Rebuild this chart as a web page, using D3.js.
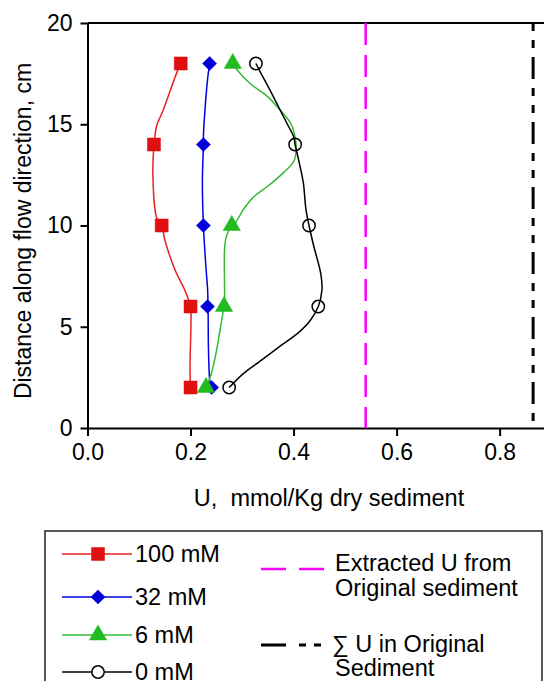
<!DOCTYPE html>
<html>
<head>
<meta charset="utf-8">
<script src="https://cdn.jsdelivr.net/npm/d3@7"></script>
<style>
  body { margin: 0; background: #fff; }
  svg { display: block; font-family: "Liberation Sans", Arial, sans-serif; }
</style>
</head>
<body>
<div id="app"></div>
<script>
// Marker values (depth in cm, U in mmol/Kg)
const depths = [18, 14, 10, 6, 2];
const u100 = [0.181, 0.129, 0.144, 0.200, 0.200];
const u32 = [0.237, 0.225, 0.225, 0.233, 0.241];
const depths6 = [18, 10, 6, 2];
const u6 = [0.282, 0.280, 0.265, 0.230];
const u0 = [0.327, 0.403, 0.430, 0.448, 0.275];

// Trend curves as drawn in the figure, [U, depth]
const trace100 = [[0.181,18],[0.174,17.6],[0.147,15.7],[0.134,14.9],[0.130,14.2],[0.129,14],[0.127,12.4],[0.134,10.4],[0.144,10],[0.150,9.3],[0.170,7.8],[0.189,6.8],[0.200,6],[0.201,5.5],[0.199,3.0],[0.200,2]];
const trace32 = [[0.237,18],[0.233,17.2],[0.228,15.7],[0.225,14.4],[0.225,14],[0.223,12.2],[0.225,10],[0.230,7.9],[0.233,6.9],[0.234,6],[0.235,3.7],[0.238,2.2],[0.241,2]];
const trace6 = [[0.282,18],[0.293,17.6],[0.316,17.0],[0.348,16.4],[0.374,15.7],[0.393,15.1],[0.401,14.6],[0.405,13.9],[0.401,13.2],[0.380,12.6],[0.348,11.9],[0.322,11.4],[0.303,10.8],[0.286,10.1],[0.280,10],[0.269,9.4],[0.266,8.8],[0.266,6.2],[0.265,6],[0.257,4.8],[0.248,3.5],[0.238,2.5],[0.230,2]];
const trace0 = [[0.327,18],[0.335,17.6],[0.354,16.7],[0.374,15.7],[0.390,14.9],[0.400,14.4],[0.403,14],[0.411,13.1],[0.419,12.1],[0.424,10.8],[0.430,10],[0.439,9.0],[0.453,7.6],[0.455,6.8],[0.448,6],[0.432,5.3],[0.409,4.7],[0.377,4.1],[0.335,3.3],[0.303,2.7],[0.275,2]];

// Reference levels
const extractedU = 0.54;
const totalU = 0.865;

const xTicks = [0, 0.2, 0.4, 0.6, 0.8];
const yTicks = [0, 5, 10, 15, 20];

const width = 544;
const height = 681;

const x = d3.scaleLinear().domain([0, 0.89]).range([87.5, 546]);
const y = d3.scaleLinear().domain([0, 20]).range([428, 23]);

const svg = d3.select("#app").append("svg")
  .attr("width", width)
  .attr("height", height);

// Axes
const xAxis = svg.append("g")
  .attr("transform", `translate(0, ${y(0)})`)
  .call(d3.axisBottom(x).tickValues(xTicks).tickFormat(d3.format(".1f")).tickSize(8).tickSizeOuter(0).tickPadding(8));
const yAxis = svg.append("g")
  .attr("transform", `translate(${x(0)}, 0)`)
  .call(d3.axisLeft(y).tickValues(yTicks).tickSize(7).tickSizeOuter(0).tickPadding(8));

[xAxis, yAxis].forEach(g => {
  g.select(".domain").attr("stroke-width", 2);
  g.selectAll(".tick line").attr("stroke-width", 2);
  g.selectAll(".tick text").attr("font-size", 23).attr("font-family", "Liberation Sans, Arial, sans-serif").attr("fill", "#000");
});

// top border
svg.append("line")
  .attr("x1", x(0)).attr("x2", width + 2)
  .attr("y1", y(20)).attr("y2", y(20))
  .attr("stroke", "#000").attr("stroke-width", 2);

// Axis labels
svg.append("text")
  .text("U,  mmol/Kg dry sediment")
  .attr("x", 329).attr("y", 506)
  .attr("text-anchor", "middle")
  .attr("font-size", 23.5)
  .style("white-space", "pre");

svg.append("text")
  .text("Distance along flow direction, cm")
  .attr("transform", "translate(31, 231) rotate(-90)")
  .attr("text-anchor", "middle")
  .attr("font-size", 23);

// Reference lines
svg.append("line")
  .attr("x1", x(extractedU)).attr("x2", x(extractedU))
  .attr("y1", y(20)).attr("y2", y(0))
  .attr("stroke", "#ff00ff").attr("stroke-width", 2.5)
  .attr("stroke-dasharray", "22 10");

svg.append("line")
  .attr("x1", x(totalU)).attr("x2", x(totalU))
  .attr("y1", y(20)).attr("y2", y(0))
  .attr("stroke", "#000").attr("stroke-width", 3)
  .attr("stroke-dasharray", "8 9 8 9 22 9");

// Series
const line = d3.line().x(d => x(d[0])).y(d => y(d[1])).curve(d3.curveCatmullRom);

// square turned 45 degrees, as in the original
const squareDiamond = {
  draw(context, size) {
    const r = Math.sqrt(size) / Math.SQRT2;
    context.moveTo(0, -r);
    context.lineTo(r, 0);
    context.lineTo(0, r);
    context.lineTo(-r, 0);
    context.closePath();
  }
};

const series = [
  { name: "100 mM", trace: trace100, u: u100, d: depths, color: "#e01010", line: "#e82020", symbol: d3.symbolSquare, size: 170, fill: true },
  { name: "32 mM", trace: trace32, u: u32, d: depths, color: "#0000dd", line: "#0000e0", symbol: squareDiamond, size: 100, fill: true },
  { name: "6 mM", trace: trace6, u: u6, d: depths6, color: "#22bb22", line: "#33bb33", symbol: d3.symbolTriangle, size: 130, fill: true },
  { name: "0 mM", trace: trace0, u: u0, d: depths, color: "#000", line: "#000", symbol: d3.symbolCircle, size: 120, fill: false }
];

series.forEach(s => {
  svg.append("path")
    .datum(s.trace)
    .attr("d", line)
    .attr("fill", "none")
    .attr("stroke", s.line)
    .attr("stroke-width", 1.5);
});

series.forEach(s => {
  svg.selectAll(null)
    .data(s.u.map((u, i) => [u, s.d[i]]))
    .enter()
    .append("path")
    .attr("d", d3.symbol().type(s.symbol).size(s.size))
    .attr("transform", d => `translate(${x(d[0])}, ${y(d[1])})`)
    .attr("fill", s.fill ? s.color : "none")
    .attr("stroke", s.color)
    .attr("stroke-width", s.fill ? 0.5 : 1.5);
});

// Legend
const legend = svg.append("g");
legend.append("rect")
  .attr("x", 45).attr("y", 531)
  .attr("width", 497).attr("height", 170)
  .attr("fill", "none").attr("stroke", "#222").attr("stroke-width", 1.5);

const rowY = [554, 597, 635, 672];
series.forEach((s, i) => {
  const g = legend.append("g").attr("transform", `translate(0, ${rowY[i]})`);
  g.append("line")
    .attr("x1", 62).attr("x2", 132)
    .attr("stroke", s.line).attr("stroke-width", 1.5);
  g.append("path")
    .attr("d", d3.symbol().type(s.symbol).size(s.size))
    .attr("transform", "translate(98, 0)")
    .attr("fill", s.fill ? s.color : "#fff")
    .attr("stroke", s.color)
    .attr("stroke-width", s.fill ? 0.5 : 1.5);
  g.append("text")
    .text(s.name)
    .attr("x", 135).attr("y", 8)
    .attr("font-size", 23.5);
});

// Reference line legend entries
legend.append("line")
  .attr("x1", 261).attr("x2", 325)
  .attr("y1", 569).attr("y2", 569)
  .attr("stroke", "#ff00ff").attr("stroke-width", 2.5)
  .attr("stroke-dasharray", "25 13");
legend.append("text").attr("x", 335).attr("y", 571).attr("font-size", 23.5).text("Extracted U from");
legend.append("text").attr("x", 335).attr("y", 596).attr("font-size", 23.5).text("Original sediment");

legend.append("line")
  .attr("x1", 261).attr("x2", 322)
  .attr("y1", 645).attr("y2", 645)
  .attr("stroke", "#000").attr("stroke-width", 3)
  .attr("stroke-dasharray", "25 13 7 8 7");
legend.append("text").attr("x", 332).attr("y", 652).attr("font-size", 23.5).text("∑ U in Original");
legend.append("text").attr("x", 335).attr("y", 676).attr("font-size", 23.5).text("Sediment");
</script>
</body>
</html>
